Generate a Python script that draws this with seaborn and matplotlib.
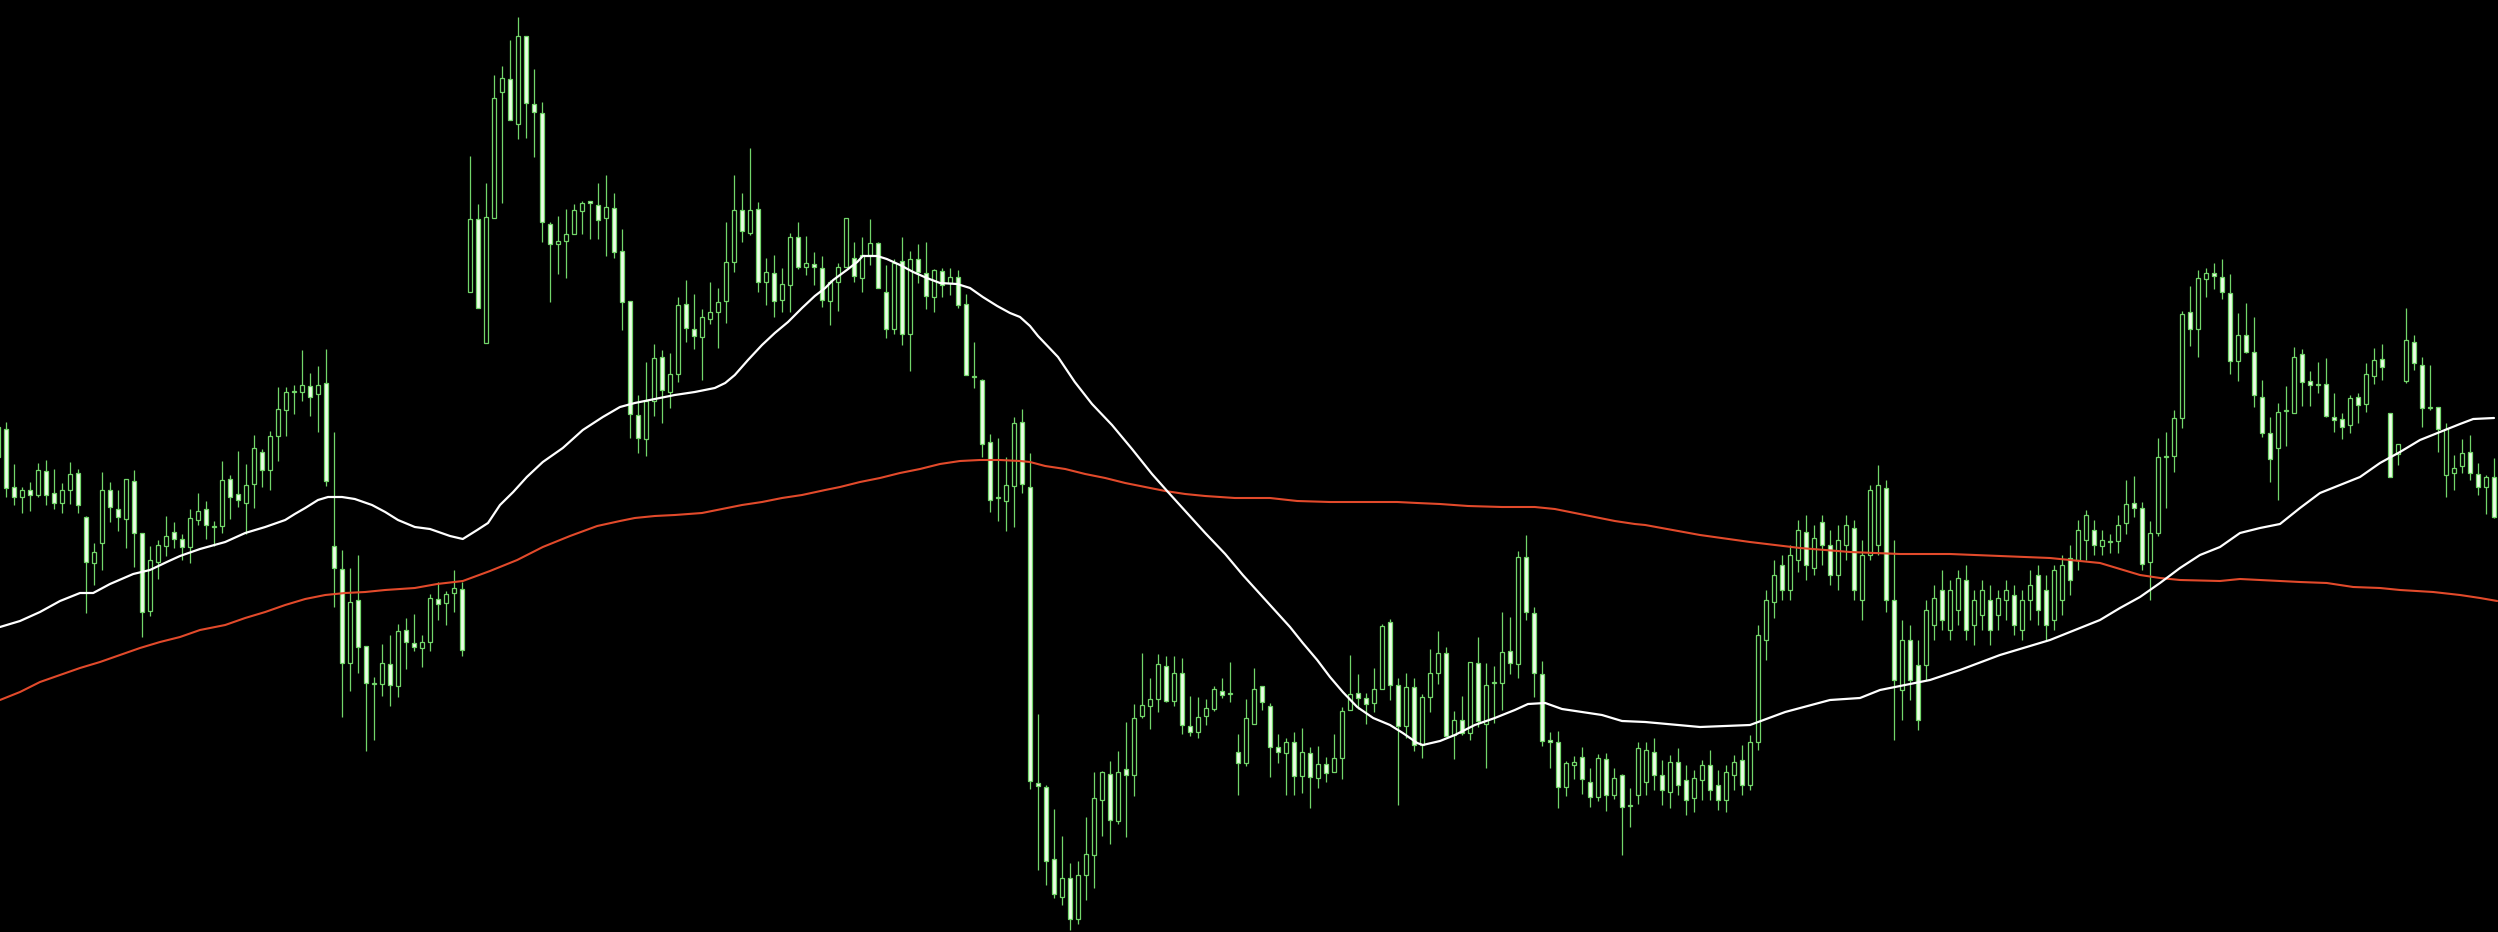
import numpy as np
import pandas as pd
import matplotlib
matplotlib.use("Agg")
import matplotlib.pyplot as plt
import seaborn as sns

# candle data, price in points (313 bars)
opens = [
    573, 571, 513, 503, 510, 505, 529, 507, 497, 510, 527, 483, 437, 457, 510, 491, 481, 519, 467, 389,
    438, 454, 468, 461, 453, 480, 491, 473, 474, 521, 506, 497, 516, 548, 530, 564, 590, 608, 608, 614,
    606, 617, 454, 431, 337, 400, 354, 316, 316, 336, 314, 370, 357, 352, 358, 401, 397, 407, 411, 708,
    781, 657, 782, 908, 921, 876, 964, 896, 887, 776, 756, 759, 766, 789, 799, 795, 782, 792, 749, 699,
    585, 561, 599, 643, 608, 626, 696, 671, 663, 681, 688, 699, 738, 790, 767, 791, 718, 727, 700, 715,
    763, 733, 736, 732, 699, 718, 733, 742, 722, 745, 757, 708, 671, 739, 666, 741, 727, 703, 729, 717,
    723, 696, 623, 620, 558, 502, 499, 514, 578, 513, 217, 213, 141, 103, 122, 81, 125, 145, 200, 226,
    179, 231, 225, 284, 294, 301, 334, 299, 327, 274, 268, 284, 291, 309, 306, 248, 237, 276, 314, 294,
    253, 247, 258, 224, 247, 222, 236, 228, 242, 290, 307, 302, 297, 311, 378, 315, 274, 313, 255, 303,
    327, 347, 265, 280, 267, 337, 276, 317, 317, 349, 336, 443, 387, 326, 260, 258, 213, 235, 243, 218,
    203, 241, 205, 225, 194, 205, 218, 248, 225, 208, 238, 220, 202, 220, 235, 215, 200, 225, 240, 215,
    258, 360, 398, 435, 410, 440, 468, 432, 478, 455, 425, 455, 472, 400, 445, 455, 512, 400, 310, 360,
    335, 335, 375, 410, 370, 390, 420, 375, 385, 400, 385, 400, 405, 370, 400, 425, 410, 380, 400, 442,
    440, 460, 470, 454, 458, 459, 477, 497, 492, 438, 467, 543, 544, 582, 688, 671, 721, 727, 723, 707,
    639, 665, 648, 603, 567, 552, 589, 587, 646, 619, 615, 616, 583, 581, 575, 603, 596, 624, 641, 587,
    546, 619, 658, 635, 592, 593, 525, 527, 534, 548, 526, 513, 523,
]
highs = [
    580, 578, 536, 513, 518, 537, 540, 531, 517, 538, 531, 484, 457, 528, 518, 510, 521, 530, 467, 454,
    460, 484, 478, 466, 491, 507, 499, 479, 539, 525, 549, 536, 565, 551, 569, 613, 613, 615, 650, 627,
    634, 651, 568, 450, 432, 445, 354, 323, 356, 365, 376, 382, 386, 365, 406, 418, 409, 430, 418, 844,
    796, 817, 925, 934, 960, 983, 964, 931, 898, 778, 784, 791, 796, 799, 799, 817, 825, 807, 771, 699,
    605, 638, 656, 650, 647, 703, 720, 706, 691, 718, 712, 778, 825, 807, 852, 798, 742, 745, 732, 767,
    778, 764, 748, 744, 720, 737, 782, 758, 763, 781, 758, 735, 741, 763, 749, 756, 758, 731, 732, 732,
    730, 706, 658, 621, 566, 562, 543, 583, 591, 547, 286, 215, 191, 164, 137, 139, 183, 228, 229, 239,
    249, 278, 296, 347, 322, 346, 344, 344, 342, 304, 303, 301, 314, 322, 338, 266, 301, 332, 314, 297,
    266, 262, 268, 272, 253, 254, 243, 266, 293, 345, 326, 307, 332, 376, 381, 322, 327, 322, 306, 351,
    369, 353, 289, 304, 338, 363, 337, 334, 388, 383, 449, 465, 393, 339, 268, 269, 239, 244, 253, 232,
    246, 247, 232, 226, 212, 258, 258, 262, 240, 245, 252, 235, 230, 240, 250, 230, 235, 245, 255, 265,
    375, 410, 440, 445, 455, 480, 485, 475, 485, 470, 475, 485, 480, 460, 515, 535, 520, 460, 380, 375,
    360, 400, 415, 430, 420, 430, 435, 410, 420, 415, 410, 420, 415, 410, 430, 435, 425, 435, 445, 455,
    480, 490, 480, 470, 466, 485, 520, 524, 498, 479, 562, 568, 590, 689, 714, 730, 732, 737, 741, 726,
    687, 697, 683, 620, 583, 597, 614, 653, 651, 629, 638, 642, 607, 587, 605, 607, 637, 652, 656, 587,
    556, 692, 665, 643, 635, 593, 577, 545, 561, 565, 537, 525, 542,
]
lows = [
    538, 503, 495, 487, 489, 503, 495, 491, 487, 496, 487, 387, 415, 430, 478, 469, 452, 433, 363, 384,
    421, 444, 452, 440, 437, 475, 461, 454, 467, 481, 493, 466, 492, 513, 510, 539, 564, 586, 599, 584,
    568, 514, 393, 283, 309, 327, 249, 260, 304, 294, 303, 331, 349, 333, 349, 380, 375, 388, 344, 708,
    692, 657, 782, 797, 880, 861, 862, 843, 758, 698, 726, 722, 766, 766, 761, 761, 744, 742, 670, 562,
    547, 544, 584, 577, 592, 618, 658, 651, 620, 676, 652, 677, 728, 758, 765, 708, 695, 683, 688, 688,
    731, 725, 715, 693, 675, 689, 733, 718, 708, 735, 712, 662, 666, 655, 629, 717, 691, 688, 703, 705,
    692, 625, 612, 543, 488, 479, 469, 473, 507, 211, 130, 115, 102, 95, 70, 76, 100, 112, 164, 156,
    176, 163, 204, 282, 271, 288, 298, 294, 266, 264, 262, 275, 289, 302, 298, 205, 234, 276, 290, 223,
    237, 205, 205, 207, 192, 212, 218, 228, 221, 290, 291, 276, 288, 311, 300, 195, 262, 249, 242, 288,
    316, 264, 241, 265, 260, 273, 232, 277, 290, 326, 322, 380, 303, 254, 232, 192, 204, 221, 206, 193,
    199, 189, 201, 145, 173, 196, 205, 210, 195, 192, 205, 185, 188, 200, 200, 190, 188, 210, 205, 210,
    250, 340, 382, 400, 400, 428, 420, 425, 435, 415, 410, 440, 400, 380, 440, 445, 388, 260, 280, 300,
    270, 320, 360, 370, 360, 375, 360, 355, 370, 355, 370, 380, 365, 360, 380, 375, 360, 370, 385, 405,
    430, 440, 445, 445, 447, 447, 466, 483, 430, 400, 464, 492, 528, 572, 654, 643, 703, 711, 701, 626,
    619, 647, 593, 563, 518, 500, 554, 587, 594, 594, 607, 583, 568, 561, 567, 577, 588, 616, 620, 523,
    535, 617, 630, 573, 590, 548, 503, 510, 527, 520, 505, 486, 482,
]
closes = [
    543, 512, 503, 510, 505, 530, 505, 497, 510, 526, 495, 438, 448, 510, 493, 483, 521, 467, 388, 440,
    455, 464, 461, 453, 482, 489, 475, 473, 520, 503, 500, 515, 552, 530, 564, 591, 608, 608, 615, 603,
    615, 519, 432, 337, 398, 353, 317, 316, 337, 315, 369, 358, 353, 358, 402, 396, 406, 412, 350, 781,
    692, 783, 902, 922, 880, 964, 897, 888, 778, 756, 759, 766, 790, 797, 797, 780, 793, 748, 698, 586,
    562, 599, 642, 610, 626, 695, 672, 664, 683, 688, 698, 738, 790, 769, 790, 718, 728, 699, 716, 763,
    733, 737, 733, 700, 718, 733, 782, 724, 745, 757, 712, 671, 737, 666, 741, 728, 704, 730, 715, 723,
    695, 625, 623, 556, 500, 502, 515, 577, 516, 219, 214, 139, 106, 122, 81, 125, 146, 202, 228, 180,
    228, 225, 282, 295, 301, 336, 299, 327, 275, 268, 283, 292, 311, 305, 306, 237, 282, 311, 298, 253,
    248, 258, 224, 248, 223, 236, 227, 242, 289, 306, 302, 296, 311, 374, 315, 274, 313, 255, 303, 327,
    347, 264, 280, 267, 338, 279, 315, 317, 348, 337, 443, 388, 327, 259, 258, 213, 237, 238, 221, 203,
    242, 205, 222, 193, 194, 252, 250, 225, 210, 238, 215, 200, 222, 235, 210, 200, 228, 238, 215, 258,
    365, 400, 425, 410, 445, 470, 435, 462, 455, 425, 460, 475, 410, 445, 510, 515, 400, 320, 360, 320,
    280, 390, 402, 380, 410, 422, 370, 400, 410, 370, 402, 410, 375, 400, 415, 390, 375, 430, 435, 420,
    470, 485, 455, 460, 458, 475, 496, 492, 436, 467, 543, 544, 582, 686, 671, 722, 727, 724, 708, 639,
    665, 648, 605, 567, 541, 588, 589, 643, 618, 615, 615, 584, 580, 573, 602, 595, 626, 640, 633, 523,
    556, 660, 637, 592, 592, 571, 571, 532, 547, 527, 513, 523, 483,
]

# moving averages (bar position, value)
fast_ma_pos = [0.25, 2.75, 5.25, 7.75, 10.25, 11.9, 14, 16.9, 19, 21.1, 22.75, 25.25, 28.4, 30.9, 33.4,
               35.9, 37.1, 38.4, 40, 41.25, 43, 44.6, 46.75, 48.4, 50, 52.1, 54, 56.5, 58.1, 59.9,
               61.25, 62.75, 64.4, 66.1, 68.1, 70.6, 73.1, 75.6, 77.75, 79.6, 82.1, 84.6, 87.1, 89.6,
               90.9, 92.1, 93.75, 95.5, 97.1, 98.75, 100.5, 102.1, 103.4, 104.4, 106.1, 107.4, 108.1,
               109.9, 111.1, 112.75, 114.4, 116.1, 117.75, 119.9, 121.5, 123.1, 124.9, 126.5, 127.75,
               129, 130, 132.5, 134.6, 136.75, 139.25, 141.75, 144.25, 146.25, 148.4, 150.9, 153.4,
               155.6, 158.1, 159.9, 161.5, 163.1, 164.9, 166.5, 168.1, 169.9, 171.9, 174, 175.6, 177.4,
               178.1, 180.25, 182.1, 184.6, 187.1, 189.6, 191.25, 193.4, 195.5, 198, 200.5, 203, 205.9,
               212.75, 219, 223.4, 229, 232.75, 235.25, 237.75, 241.5, 245.25, 250.25, 256.5, 260.25,
               262.75, 265.25, 267.75, 270.25, 272.75, 275.25, 277.75, 280.25, 282.75, 285.25, 287.75,
               290.25, 292.75, 295.25, 297.75, 300.25, 302.75, 305.25, 307.75, 309.4, 312]
fast_ma_val = [373, 379, 388, 399, 407, 407, 416, 426, 430, 438, 444, 451, 458, 467, 473,
               480, 486, 492, 500, 503, 503, 501, 495, 488, 480, 473, 471, 464, 461, 470,
               477, 495, 508, 523, 538, 552, 570, 583, 593, 597, 601, 605, 608, 612,
               617, 625, 640, 655, 667, 678, 692, 704, 712, 720, 730, 738, 744,
               744, 741, 735, 728, 722, 717, 716, 712, 703, 694, 687, 683,
               674, 664, 643, 618, 596, 575, 551, 526, 508, 489, 467, 446,
               425, 403, 387, 373, 357, 340, 323, 308, 293, 282, 275, 267, 257,
               255, 259, 265, 275, 282, 290, 296, 297, 291, 288, 285, 279, 278,
               273, 275, 288, 300, 302, 310, 314, 320, 330, 345, 360, 372,
               380, 392, 403, 417, 432, 445, 453, 467, 472, 476, 492,
               507, 515, 523, 537, 548, 560, 568, 576, 581, 582]

slow_ma_pos = [0.25, 2.75, 5.25, 7.75, 10.25, 12.75, 15.25, 17.75, 20.25, 22.75, 25.25, 28.4, 30.9,
               33.4, 35.9, 38.4, 40.9, 43.4, 45.9, 48.4, 52.1, 54.9, 58.1, 61.5, 64.9, 68.1, 71.5,
               74.9, 77.75, 79.6, 82.1, 84.6, 88, 90.5, 93, 95.5, 98, 100.5, 103.4, 105.25, 107.75,
               110.25, 112.75, 115.25, 117.75, 120.25, 122.75, 125.25, 127.75, 129, 130.9, 133.4,
               135.9, 138.4, 140.9, 143.4, 145.9, 148.4, 150.9, 154.6, 159, 162.4, 166.5, 174.9,
               177.4, 180.25, 183.75, 188, 192.1, 194.6, 197.1, 199.6, 202.1, 204.6, 205.9, 212.75,
               219, 225.25, 231.5, 237.75, 244, 250.25, 256.5, 260.25, 262.75, 265.25, 267.75, 270.25,
               272.75, 277.75, 280.25, 282.75, 287.75, 291.1, 294.4, 297.75, 300.25, 304.4, 307.75,
               310.25, 312.4]
slow_ma_val = [300, 308, 318, 325, 332, 338, 345, 352, 358, 363, 370, 375, 382,
               388, 395, 401, 405, 407, 408, 410, 412, 416, 419, 429, 440, 453, 464,
               474, 479, 482, 484, 485, 487, 491, 495, 498, 502, 505, 510, 513, 518,
               522, 527, 531, 536, 539, 540, 540, 539, 538, 534, 531,
               526, 522, 517, 513, 509, 506, 504, 502, 502, 499, 498, 498,
               497, 496, 494, 493, 493, 491, 487, 483, 479, 476, 475, 465,
               458, 452, 448, 446, 446, 444, 442, 439, 437, 431, 425, 422,
               420, 419, 421, 420, 418, 417, 413, 412, 410, 408, 405,
               402, 399]

wick_green = "#72d66a"
bear_fill = "#eefde8"

sns.set_style("dark", {"axes.facecolor": "black", "figure.facecolor": "black"})

bars = pd.DataFrame({"open": opens, "high": highs, "low": lows, "close": closes})
bars["pos"] = np.arange(len(bars))
bars["bottom"] = bars[["open", "close"]].min(axis=1)
bars["height"] = (bars["close"] - bars["open"]).abs().clip(lower=0.6)
bars["fill"] = np.where(bars["close"] < bars["open"], bear_fill, "black")

fig = plt.figure(figsize=(24.98, 9.32), dpi=100)
ax = fig.add_axes([0, 0, 1, 1])
ax.set_facecolor("black")

# wicks then bodies on top
ax.vlines(bars["pos"], bars["low"], bars["high"], color=wick_green, linewidth=0.9, zorder=2)
ax.bar(bars["pos"], bars["height"], bottom=bars["bottom"], width=0.5,
       color=bars["fill"], edgecolor=wick_green, linewidth=0.9, zorder=3)

fast = pd.DataFrame({"pos": fast_ma_pos, "val": fast_ma_val})
slow = pd.DataFrame({"pos": slow_ma_pos, "val": slow_ma_val})
sns.lineplot(data=slow, x="pos", y="val", color="#e24a2b", linewidth=1.5,
             estimator=None, sort=False, ax=ax, zorder=4)
sns.lineplot(data=fast, x="pos", y="val", color="white", linewidth=1.6,
             estimator=None, sort=False, ax=ax, zorder=5)

ax.set_xlim(0.25, 312.5)
ax.set_ylim(68, 1000)
ax.set_xlabel("")
ax.set_ylabel("")
ax.set_xticks([])
ax.set_yticks([])
for s in ax.spines.values():
    s.set_visible(False)

fig.savefig("out.png", dpi=100, facecolor="black")
